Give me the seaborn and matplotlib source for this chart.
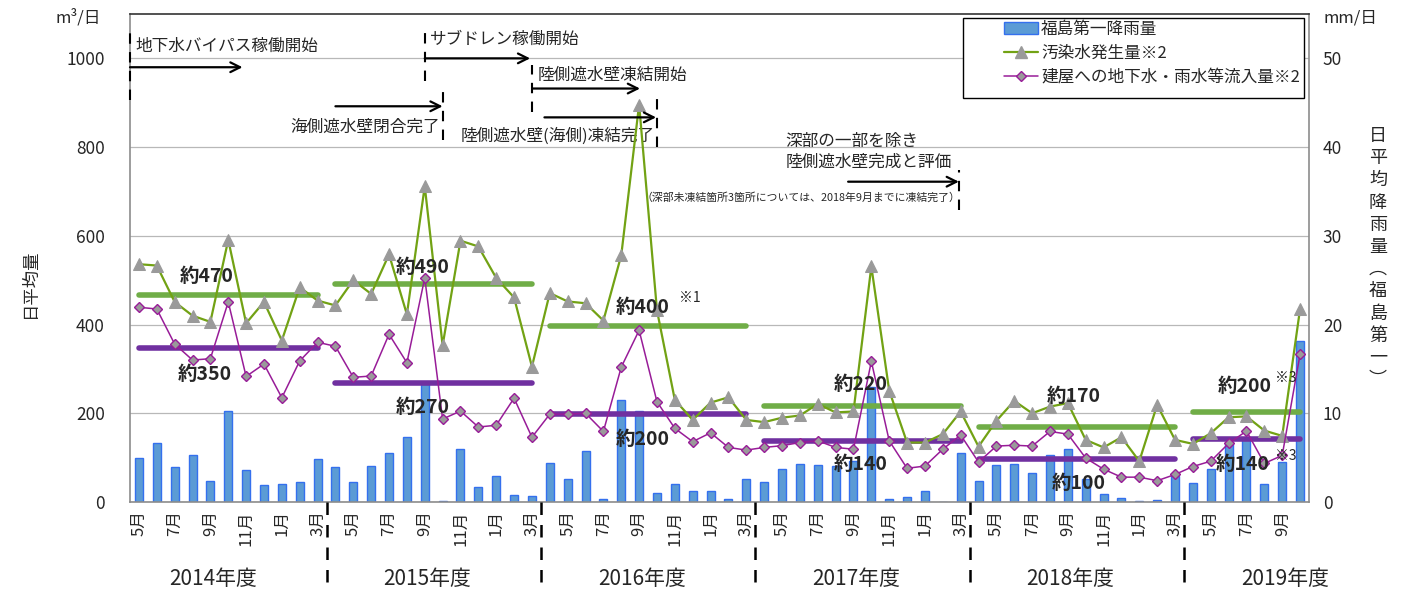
import numpy as np
import pandas as pd
import matplotlib
matplotlib.use("Agg")
import matplotlib.pyplot as plt
import matplotlib.transforms as mtransforms
from matplotlib.patches import Patch, Rectangle
from matplotlib.lines import Line2D
import seaborn as sns

# ---------------- data ----------------
months = pd.period_range("2014-05", "2019-10", freq="M").astype(str).tolist()

# 福島第一降雨量 (mm/日)
rain = [5.0, 6.7, 4.0, 5.3, 2.4, 10.2, 3.65, 1.9, 2.0, 2.2, 4.9,
        3.95, 2.26, 4.06, 5.57, 7.37, 13.3, 0.15, 5.94, 1.65, 2.93, 0.79, 0.68,
        4.36, 2.6, 5.79, 0.34, 11.5, 10.27, 1.05, 2.03, 1.24, 1.24, 0.34, 2.6,
        2.26, 3.76, 4.25, 4.14, 4.06, 4.66, 13.0, 0.38, 0.53, 1.24, 0.05, 5.57,
        2.35, 4.14, 4.29, 3.31, 5.34, 6.02, 2.56, 0.94, 0.41, 0.11, 0.23, 2.93,
        2.14, 3.72, 6.5, 7.2, 2.03, 4.51, 18.1]

# 汚染水発生量 (m3/日)
generated = [536, 533, 451, 420, 406, 591, 403, 451, 364, 484, 454,
             443, 500, 469, 558, 423, 712, 353, 589, 576, 505, 461, 305,
             471, 452, 448, 409, 556, 896, 432, 230, 185, 224, 236, 185,
             180, 190, 195, 221, 202, 204, 531, 251, 134, 134, 153, 204,
             125, 183, 228, 200, 215, 223, 140, 123, 146, 92, 219, 140,
             131, 155, 191, 193, 161, 149, 435]

# 建屋への地下水・雨水等流入量 (m3/日)
inflow = [439, 435, 356, 320, 323, 451, 283, 311, 235, 318, 360,
          351, 281, 284, 378, 314, 505, 187, 205, 169, 173, 234, 146,
          198, 198, 200, 159, 304, 387, 226, 166, 136, 156, 123, 117,
          123, 127, 134, 138, 123, 119, 317, 138, 76, 81, 119, 151,
          90, 126, 128, 126, 159, 153, 99, 74, 56, 56, 48, 62,
          80, 92, 132, 160, 87, 105, 333]

fy_labels = ["2014年度", "2015年度", "2016年度", "2017年度", "2018年度", "2019年度"]
fy_first = [0, 11, 23, 35, 47, 59]
fy_last = [10, 22, 34, 46, 58, 65]
avg_generated = [466, 491, 396, 217, 170, 203]
avg_inflow = [348, 269, 198, 138, 97, 141]
avg_gen_text = ["約470", "約490", "約400", "約220", "約170", "約200"]
avg_in_text = ["約350", "約270", "約200", "約140", "約100", "約140"]

xtick_labels = ["5月", "7月", "9月", "11月", "1月", "3月"] * 5 + ["5月", "7月", "9月"]

legend_labels = ["福島第一降雨量", "汚染水発生量※2", "建屋への地下水・雨水等流入量※2"]

# ---------------- style ----------------
sns.set_style("white")
plt.rcParams["font.family"] = ["Noto Sans CJK JP", "DejaVu Sans"]

GREEN = "#72a214"
GREEN_AVG = "#70ad47"
PURPLE = "#981c98"
PURPLE_AVG = "#7030a0"
BAR = "#5b9bd5"
BAR_EDGE = "#3470ee"
MARK = "#9a9a9a"

W, H = 1415, 595
fig = plt.figure(figsize=(W / 100, H / 100), dpi=100)
ax = fig.add_axes([130 / W, 1 - 502 / H, (1309 - 130) / W, (502 - 14) / H])
ax2 = ax.twinx()
ax.set_zorder(ax2.get_zorder() + 1)
ax.patch.set_visible(False)

df = pd.DataFrame({"idx": np.arange(len(months)), "month": months,
                   "rain": rain, "generated": generated, "inflow": inflow})

# bars (right axis)
sns.barplot(data=df, x="idx", y="rain", ax=ax2, native_scale=True, width=0.45,
            color=BAR, edgecolor=BAR_EDGE, linewidth=1, saturation=1, errorbar=None)
ax2.set_ylim(0, 55)
ax2.set_yticks(range(0, 51, 10))
ax2.yaxis.grid(True, color="#b8b8b8", lw=0.9)
ax2.set_axisbelow(True)
ax2.set_ylabel("")
ax2.tick_params(axis="y", length=0, pad=10, labelsize=12.5)

# lines (left axis)
sns.lineplot(data=df, x="idx", y="generated", ax=ax, color=GREEN, lw=1.6,
             marker="^", markersize=8.5, markerfacecolor=MARK, markeredgecolor=MARK, zorder=4)
sns.lineplot(data=df, x="idx", y="inflow", ax=ax, color=PURPLE, lw=1.1,
             marker="D", markersize=5.5, markerfacecolor=MARK, markeredgecolor=PURPLE,
             markeredgewidth=1, zorder=4)

lc1 = ax.hlines(avg_generated, fy_first, fy_last, colors=GREEN_AVG, lw=4, zorder=3)
lc2 = ax.hlines(avg_inflow, fy_first, fy_last, colors=PURPLE_AVG, lw=4, zorder=3)
lc1.set_capstyle("round")
lc2.set_capstyle("round")

# average labels
gen_pos = [(3.8, 508), (15.9, 528), (28.2, 438), (40.4, 264), (52.3, 237), (61.9, 260)]
in_pos = [(3.7, 287), (15.9, 212), (28.2, 140), (40.4, 84), (52.6, 41), (61.8, 84)]
for (x, y), t in zip(gen_pos, avg_gen_text):
    ax.text(x, y, t, ha="center", va="center", fontsize=14, fontweight="bold", zorder=6)
for (x, y), t in zip(in_pos, avg_in_text):
    ax.text(x, y, t, ha="center", va="center", fontsize=14, fontweight="bold", zorder=6)
ax.text(30.85, 460, "※1", ha="center", va="center", fontsize=10, zorder=6)
ax.text(64.2, 280, "※3", ha="center", va="center", fontsize=10, zorder=6)
ax.text(64.2, 104, "※3", ha="center", va="center", fontsize=10, zorder=6)

# axes
ax.set_xlim(-0.5, 65.5)
ax.set_ylim(0, 1100)
ax.set_yticks(range(0, 1001, 200))
ax.set_xticks(np.arange(0, 66, 2))
ax.set_xticklabels(xtick_labels, rotation=90, fontsize=12)
ax.set_xticks(np.arange(-0.5, 66, 1), minor=True)
ax.tick_params(axis="x", which="major", length=0, pad=6)
ax.tick_params(axis="x", which="minor", direction="in", length=5, color="#b0b0b0", width=1)
ax.tick_params(axis="y", length=0, pad=18, labelsize=12.5)
ax.set_xlabel("")
ax.set_ylabel("")
for s in ax.spines.values():
    s.set_color("#8c8c8c")
    s.set_linewidth(1.2)
ax.spines["top"].set_color("#333333")
for s in ax2.spines.values():
    s.set_visible(False)

trans = mtransforms.blended_transform_factory(ax.transData, ax.transAxes)
for b in [10.5, 22.5, 34.5, 46.5, 58.5]:
    ax.plot([b, b], [0, -0.17], transform=trans, color="black", lw=1.8,
            ls=(0, (5, 4)), clip_on=False, zorder=6)
for k, lab in enumerate(fy_labels):
    c = -1 + 12 * k + 5.5 - 0.35
    ax.text(c, -0.157, lab, transform=trans, ha="center", va="center", fontsize=15)

# event annotations
def vdash(x, y0, y1):
    ax.plot([x, x], [y0, y1], color="black", lw=1.5, ls=(0, (5, 4)), zorder=6, clip_on=False)

def arrow(x0, x1, y):
    ax.annotate("", xy=(x1, y), xytext=(x0, y),
                arrowprops=dict(arrowstyle="->,head_length=0.7,head_width=0.35",
                                lw=1.6, color="black", shrinkA=0, shrinkB=0), zorder=6)

TXT = 12
vdash(-0.5, 907, 1065)
ax.text(-0.2, 1027, "地下水バイパス稼働開始", ha="left", va="center", fontsize=TXT)
arrow(-0.5, 5.8, 980)

vdash(16, 948, 1065)
ax.text(16.3, 1043, "サブドレン稼働開始", ha="left", va="center", fontsize=TXT)
arrow(16, 21.9, 1000)

vdash(22, 878, 986)
ax.text(22.3, 961, "陸側遮水壁凍結開始", ha="left", va="center", fontsize=TXT)
arrow(22.05, 28.05, 932)

vdash(17, 817, 932)
arrow(11.0, 17.0, 892)
ax.text(16.85, 844, "海側遮水壁閉合完了", ha="right", va="center", fontsize=TXT)

vdash(29, 801, 914)
arrow(22.7, 28.95, 867)
ax.text(28.85, 824, "陸側遮水壁(海側)凍結完了", ha="right", va="center", fontsize=TXT)

ax.text(36.2, 812, "深部の一部を除き", ha="left", va="center", fontsize=TXT)
ax.text(36.2, 765, "陸側遮水壁完成と評価", ha="left", va="center", fontsize=TXT)
arrow(39.7, 45.9, 722)
vdash(45.9, 659, 749)
ax.text(46.0, 686, "（深部未凍結箇所3箇所については、2018年9月までに凍結完了）",
        ha="right", va="center", fontsize=7.8)

# units and axis titles
fig.text(78 / W, 1 - 18 / H, "m³/日", ha="center", va="center", fontsize=12)
fig.text(1350 / W, 1 - 18 / H, "mm/日", ha="center", va="center", fontsize=12)
fig.text(30 / W, 1 - 283 / H, "日平均量", rotation=90, ha="center", va="center", fontsize=12.5)
fig.text(1378 / W, 1 - 258 / H, "\n".join("日平均降雨量︵福島第一︶"),
         ha="center", va="center", fontsize=13, linespacing=1.3)

# legend
handles = [Patch(facecolor=BAR, edgecolor=BAR_EDGE, lw=1),
           Line2D([], [], color=GREEN, lw=1.6, marker="^", markersize=8,
                  markerfacecolor=MARK, markeredgecolor=MARK),
           Line2D([], [], color=PURPLE, lw=1.1, marker="D", markersize=5,
                  markerfacecolor=MARK, markeredgecolor=PURPLE)]
leg = ax.legend(handles, legend_labels, loc="upper right",
                bbox_to_anchor=(1300 / W, 1 - 21 / H), bbox_transform=fig.transFigure,
                frameon=False, fontsize=12, borderpad=0.0, labelspacing=0.42,
                handlelength=2.0, handletextpad=0.2, borderaxespad=0)
leg.set_zorder(10)
box = Rectangle((963 / W, 1 - 98 / H), (1304 - 963) / W, (98 - 18) / H,
                transform=fig.transFigure, facecolor="white", edgecolor="black",
                lw=1, zorder=9)
fig.patches.append(box)
# keep the legend drawn above the frame: move the legend to the figure level
leg.remove()
fig.legends.append(leg)
leg.set_figure(fig)

fig.savefig("out.png", dpi=100)
